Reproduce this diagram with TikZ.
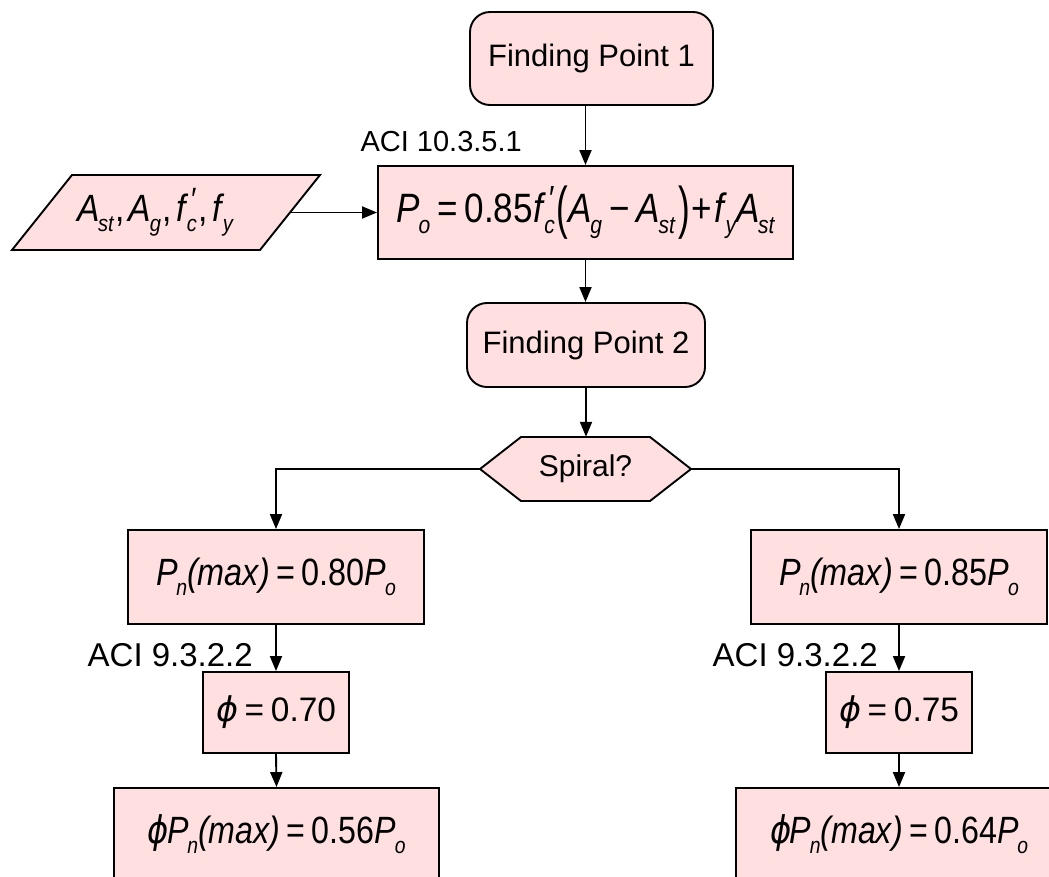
\documentclass[tikz,border=0pt]{standalone}
\usepackage{fontspec}
\setmainfont{Liberation Sans}
\newfontfamily\phifont{DejaVu Sans}
\usetikzlibrary{arrows.meta,calc}
\definecolor{boxfill}{RGB}{255,223,224}

% italic subscript tucked under the previous letter
\newcommand\sbs[1]{\kern-0.04em\raisebox{-0.5ex}{\scalebox{0.6}{\itshape #1}}}
% f'_c with the prime stacked over the subscript
\newcommand\fpc{\textit{f}\rlap{\kern0.05em\raisebox{0.55ex}{\scalebox{0.85}{\itshape ′}}}\sbs{c}}
\newcommand\eqs{\hspace{0.2em}=\hspace{0.2em}}
\newcommand\bigp[1]{\raisebox{-0.12em}{\scalebox{1}[1.4]{#1}}}
\newcommand\ph{{\phifont\itshape ϕ}}
\newcommand\fsz[1]{\fontsize{#1}{#1}\selectfont}
% formula squeezed to a given width, height kept
\newcommand\fw[2]{\resizebox{#1}{\height}{#2}}

\tikzset{
  box/.style={draw, fill=boxfill, line width=1.9pt, inner sep=0pt, align=center},
  roundbox/.style={box, rounded corners=20pt},
  arr/.style={line width=1.9pt, -{Triangle[length=15pt,width=12pt]}},
  lbl/.style={inner sep=0pt, font=\fsz{33}},
}

\begin{document}
\begin{tikzpicture}[x=1pt,y=-1pt]
\useasboundingbox (0,0) rectangle (1049,876);
\clip (0,0) rectangle (1049,876);

% top of the chart
\node[roundbox, minimum width=243pt, minimum height=93pt, font=\fsz{31}] (fp1) at (591.5,58.5) {Finding Point 1};
\node[box, minimum width=415pt, minimum height=93pt, font=\fsz{41}] (po) at (585.5,212.5)
  {\fw{378pt}{\textit{P}\sbs{o}\eqs 0.85\fpc\kern0.05em\bigp{(}\textit{A}\sbs{g}\hspace{0.2em}−\hspace{0.2em}\textit{A}\sbs{st}\kern0.1em\bigp{)}\kern0.05em+\kern0.05em\textit{f}\sbs{y}\textit{A}\sbs{st}}};
\node[inner sep=0pt, anchor=east, font=\fsz{29}] (aci1) at (522,142) {ACI 10.3.5.1};

% input parallelogram
\path[box] (72,175) -- (320,175) -- (260,250) -- (12,250) -- cycle;
\node[inner sep=0pt, font=\fsz{38}] (par) at (155,212.5)
  {\fw{156pt}{\textit{A}\sbs{st}\kern0.05em,\kern0.12em\textit{A}\sbs{g}\kern0.05em,\kern0.12em\fpc\kern0.05em,\kern0.12em\textit{f}\sbs{y}}};
\coordinate (parR) at (290,212.5);

\node[roundbox, minimum width=238pt, minimum height=84pt, font=\fsz{31}] (fp2) at (586,345) {Finding Point 2};

% decision hexagon
\path[box] (480,469) -- (521,437) -- (650,437) -- (691,469) -- (650,501) -- (521,501) -- cycle;
\node[inner sep=0pt, minimum width=211pt, minimum height=64pt, font=\fsz{30}] (hex) at (585.5,469) {Spiral?};

% left branch
\node[box, minimum width=296pt, minimum height=94pt, font=\fsz{38}] (pl) at (276,577)
  {\fw{240pt}{\textit{P}\sbs{n}\textit{(max)}\eqs 0.80\textit{P}\sbs{o}}};
\node[lbl, anchor=east] (aci2) at (253,655) {ACI 9.3.2.2};
\node[box, minimum width=146pt, minimum height=81pt, font=\fsz{34}] (phil) at (276,712.5)
  {\fw{120pt}{\ph\eqs 0.70}};
\node[box, minimum width=325pt, minimum height=92pt, font=\fsz{38}] (bl) at (276.5,834)
  {\fw{258pt}{\ph\kern-0.05em\textit{P}\sbs{n}\textit{(max)}\eqs 0.56\textit{P}\sbs{o}}};

% right branch
\node[box, minimum width=296pt, minimum height=94pt, font=\fsz{38}] (pr) at (899,577)
  {\fw{240pt}{\textit{P}\sbs{n}\textit{(max)}\eqs 0.85\textit{P}\sbs{o}}};
\node[lbl, anchor=east] (aci3) at (878,655) {ACI 9.3.2.2};
\node[box, minimum width=146pt, minimum height=81pt, font=\fsz{34}] (phir) at (899,712.5)
  {\fw{120pt}{\ph\eqs 0.75}};
\node[box, minimum width=326pt, minimum height=92pt, font=\fsz{38}] (br) at (899,834)
  {\fw{258pt}{\ph\kern-0.05em\textit{P}\sbs{n}\textit{(max)}\eqs 0.64\textit{P}\sbs{o}}};

% connectors
\draw[arr] (fp1.south -| po.north) -- (po.north);
\draw[arr] (parR) -- (po.west);
\draw[arr] (po.south) -- (po.south |- fp2.north);
\draw[arr] (fp2.south) -- (fp2.south |- hex.north);
\draw[arr] (hex.west) -| (pl.north);
\draw[arr] (hex.east) -| (pr.north);
\draw[arr] (pl.south) -- (phil.north);
\draw[arr] (phil.south) -- (bl.north);
\draw[arr] (pr.south) -- (phir.north);
\draw[arr] (phir.south) -- (br.north);
\end{tikzpicture}
\end{document}
